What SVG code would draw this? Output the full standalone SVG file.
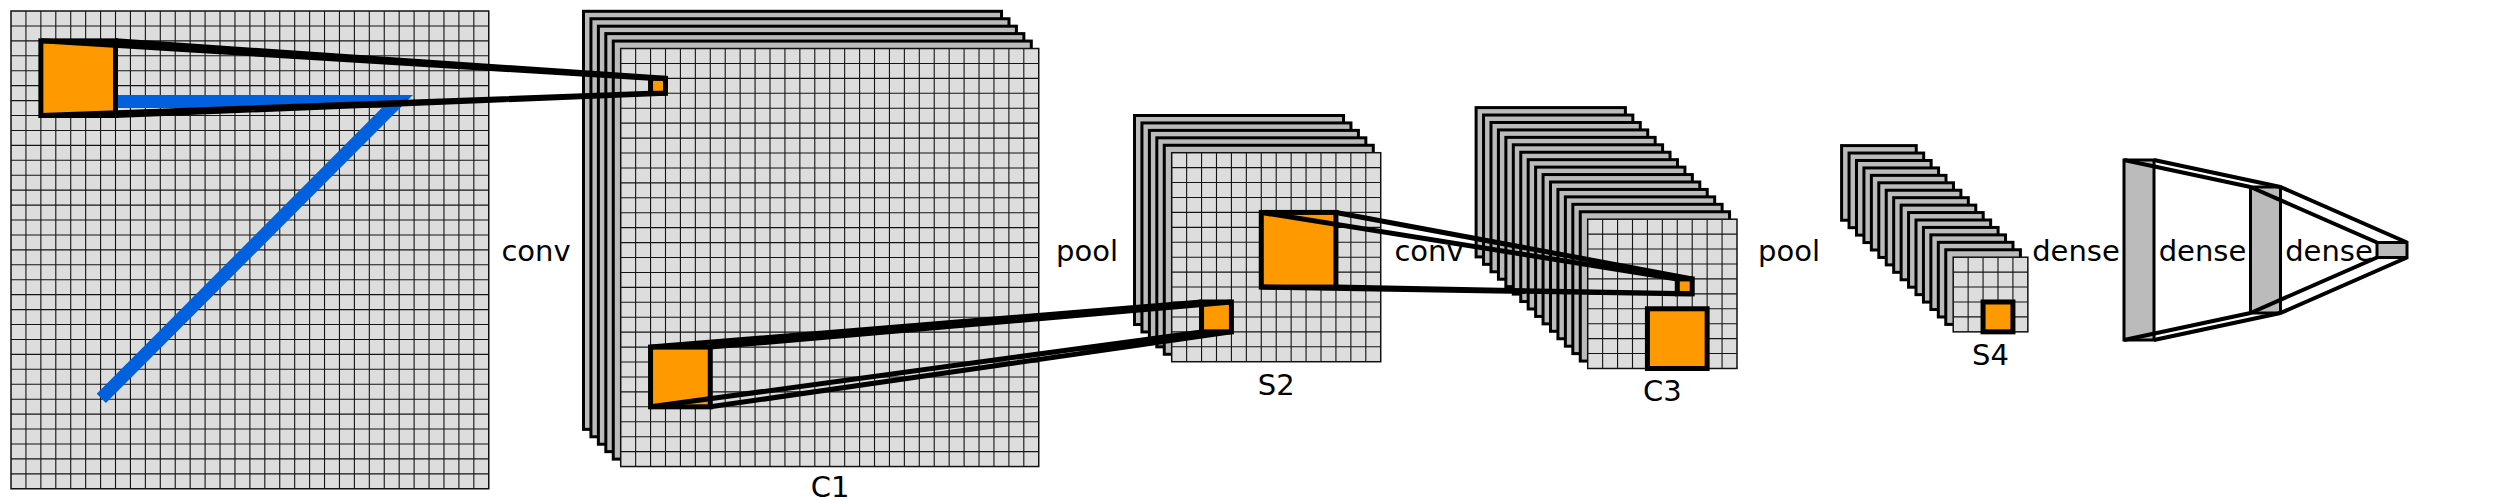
<svg xmlns="http://www.w3.org/2000/svg" width="2514" height="500" viewBox="0 0 2514 500">
<style>
.back{fill:#bbbbbb;stroke:#000;stroke-width:3}
.face{fill:#dddddd;stroke:#111;stroke-width:1.5}
.grid{fill:none;stroke:#141414;stroke-width:1.1}
.kern{fill:#ff9900;stroke:#000;stroke-width:5}
.proj{fill:none;stroke:#000;stroke-width:5}
.dl{fill:none;stroke:#000;stroke-width:4}
.dense{fill:#bbbbbb;stroke:#000;stroke-width:3}
.blue{fill:none;stroke:#0060dd;stroke-width:13;stroke-linejoin:miter;stroke-linecap:butt}
text{font-family:"DejaVu Sans","Liberation Sans",sans-serif;font-size:29px;fill:#000;text-anchor:middle}
</style>
<rect width="2514" height="500" fill="#fff"/>

<g id="input">
 <g transform="translate(11,11)">
  <rect class="face" width="477.76" height="477.76"/>
  <path class="grid" d="M14.93,0v477.76m14.93,-477.76v477.76m14.93,-477.76v477.76m14.93,-477.76v477.76m14.93,-477.76v477.76m14.93,-477.76v477.76m14.93,-477.76v477.76m14.93,-477.76v477.76m14.93,-477.76v477.76m14.93,-477.76v477.76m14.93,-477.76v477.76m14.93,-477.76v477.76m14.93,-477.76v477.76m14.93,-477.76v477.76m14.93,-477.76v477.76m14.93,-477.76v477.76m14.93,-477.76v477.76m14.93,-477.76v477.76m14.93,-477.76v477.76m14.93,-477.76v477.76m14.93,-477.76v477.76m14.93,-477.76v477.76m14.93,-477.76v477.76m14.93,-477.76v477.76m14.93,-477.76v477.76m14.93,-477.76v477.76m14.93,-477.76v477.76m14.93,-477.76v477.76m14.93,-477.76v477.76m14.93,-477.76v477.76m14.93,-477.76v477.76M0,14.93h477.76m-477.76,14.93h477.76m-477.76,14.93h477.76m-477.76,14.93h477.76m-477.76,14.93h477.76m-477.76,14.93h477.76m-477.76,14.93h477.76m-477.76,14.93h477.76m-477.76,14.93h477.76m-477.76,14.93h477.76m-477.76,14.93h477.76m-477.76,14.93h477.76m-477.76,14.93h477.76m-477.76,14.93h477.76m-477.76,14.93h477.76m-477.76,14.93h477.76m-477.76,14.93h477.76m-477.76,14.93h477.76m-477.76,14.93h477.76m-477.76,14.93h477.76m-477.76,14.93h477.76m-477.76,14.93h477.76m-477.76,14.93h477.76m-477.76,14.93h477.76m-477.76,14.93h477.76m-477.76,14.93h477.76m-477.76,14.93h477.76m-477.76,14.93h477.76m-477.76,14.93h477.76m-477.76,14.93h477.76m-477.76,14.93h477.76"/>
 </g>
 <polyline class="blue" points="115,101.5 397.3,101.5 101.3,398.3"/>
 <rect class="kern" x="40.86" y="40.86" width="74.65" height="74.65"/>
</g>

<g id="C1">
 <g transform="translate(620.7,48.5)">
  <rect class="back" x="-37.2" y="-37.2" width="418.04" height="418.04"/>
  <rect class="back" x="-29.76" y="-29.76" width="418.04" height="418.04"/>
  <rect class="back" x="-22.32" y="-22.32" width="418.04" height="418.04"/>
  <rect class="back" x="-14.88" y="-14.88" width="418.04" height="418.04"/>
  <rect class="back" x="-7.44" y="-7.44" width="418.04" height="418.04"/>
  <rect class="face" width="418.04" height="418.04"/>
  <path class="grid" d="M14.93,0v418.04m14.93,-418.04v418.04m14.93,-418.04v418.04m14.93,-418.04v418.04m14.93,-418.04v418.04m14.93,-418.04v418.04m14.93,-418.04v418.04m14.93,-418.04v418.04m14.93,-418.04v418.04m14.93,-418.04v418.04m14.93,-418.04v418.04m14.93,-418.04v418.04m14.93,-418.04v418.04m14.93,-418.04v418.04m14.93,-418.04v418.04m14.93,-418.04v418.04m14.93,-418.04v418.04m14.93,-418.04v418.04m14.93,-418.04v418.04m14.93,-418.04v418.04m14.93,-418.04v418.04m14.93,-418.04v418.04m14.93,-418.04v418.04m14.93,-418.04v418.04m14.93,-418.04v418.04m14.93,-418.04v418.04m14.93,-418.04v418.04M0,14.93h418.04m-418.04,14.93h418.04m-418.04,14.93h418.04m-418.04,14.93h418.04m-418.04,14.93h418.04m-418.04,14.93h418.04m-418.04,14.93h418.04m-418.04,14.93h418.04m-418.04,14.93h418.04m-418.04,14.93h418.04m-418.04,14.93h418.04m-418.04,14.93h418.04m-418.04,14.93h418.04m-418.04,14.93h418.04m-418.04,14.93h418.04m-418.04,14.93h418.04m-418.04,14.93h418.04m-418.04,14.93h418.04m-418.04,14.93h418.04m-418.04,14.93h418.04m-418.04,14.93h418.04m-418.04,14.93h418.04m-418.04,14.93h418.04m-418.04,14.93h418.04m-418.04,14.93h418.04m-418.04,14.93h418.04m-418.04,14.93h418.04"/>
  <rect class="kern" x="29.86" y="29.86" width="14.93" height="14.93"/>
  <rect class="kern" x="29.86" y="298.6" width="59.72" height="59.72"/>
 </g>
 <text x="830" y="497">C1</text>
</g>

<g id="S2">
 <g transform="translate(1171.7,152.7)">
  <rect class="back" x="-37.2" y="-37.2" width="209.02" height="209.02"/>
  <rect class="back" x="-29.76" y="-29.76" width="209.02" height="209.02"/>
  <rect class="back" x="-22.32" y="-22.32" width="209.02" height="209.02"/>
  <rect class="back" x="-14.88" y="-14.88" width="209.02" height="209.02"/>
  <rect class="back" x="-7.44" y="-7.44" width="209.02" height="209.02"/>
  <rect class="face" width="209.02" height="209.02"/>
  <path class="grid" d="M14.93,0v209.02m14.93,-209.02v209.02m14.93,-209.02v209.02m14.93,-209.02v209.02m14.93,-209.02v209.02m14.93,-209.02v209.02m14.93,-209.02v209.02m14.93,-209.02v209.02m14.93,-209.02v209.02m14.93,-209.02v209.02m14.93,-209.02v209.02m14.93,-209.02v209.02m14.93,-209.02v209.02M0,14.93h209.02m-209.02,14.93h209.02m-209.02,14.93h209.02m-209.02,14.93h209.02m-209.02,14.93h209.02m-209.02,14.93h209.02m-209.02,14.93h209.02m-209.02,14.93h209.02m-209.02,14.93h209.02m-209.02,14.93h209.02m-209.02,14.93h209.02m-209.02,14.93h209.02m-209.02,14.93h209.02"/>
  <rect class="kern" x="29.86" y="149.3" width="29.86" height="29.86"/>
  <rect class="kern" x="89.58" y="59.72" width="74.65" height="74.65"/>
 </g>
 <text x="1276.2" y="394.5">S2</text>
</g>

<g id="C3">
 <g transform="translate(1587.7,219.2)">
  <rect class="back" x="-111.6" y="-111.6" width="149.3" height="149.3"/>
  <rect class="back" x="-104.16" y="-104.16" width="149.3" height="149.3"/>
  <rect class="back" x="-96.72" y="-96.72" width="149.3" height="149.3"/>
  <rect class="back" x="-89.28" y="-89.28" width="149.3" height="149.3"/>
  <rect class="back" x="-81.84" y="-81.84" width="149.3" height="149.3"/>
  <rect class="back" x="-74.4" y="-74.4" width="149.3" height="149.3"/>
  <rect class="back" x="-66.96" y="-66.96" width="149.3" height="149.3"/>
  <rect class="back" x="-59.52" y="-59.52" width="149.3" height="149.3"/>
  <rect class="back" x="-52.08" y="-52.08" width="149.3" height="149.3"/>
  <rect class="back" x="-44.64" y="-44.64" width="149.3" height="149.3"/>
  <rect class="back" x="-37.2" y="-37.2" width="149.3" height="149.3"/>
  <rect class="back" x="-29.76" y="-29.76" width="149.3" height="149.3"/>
  <rect class="back" x="-22.32" y="-22.32" width="149.3" height="149.3"/>
  <rect class="back" x="-14.88" y="-14.88" width="149.3" height="149.3"/>
  <rect class="back" x="-7.44" y="-7.44" width="149.3" height="149.3"/>
  <rect class="face" width="149.3" height="149.3"/>
  <path class="grid" d="M14.93,0v149.3m14.93,-149.3v149.3m14.93,-149.3v149.3m14.93,-149.3v149.3m14.93,-149.3v149.3m14.93,-149.3v149.3m14.93,-149.3v149.3m14.93,-149.3v149.3m14.93,-149.3v149.3M0,14.93h149.3m-149.3,14.93h149.3m-149.3,14.93h149.3m-149.3,14.93h149.3m-149.3,14.93h149.3m-149.3,14.93h149.3m-149.3,14.93h149.3m-149.3,14.93h149.3m-149.3,14.93h149.3"/>
  <rect class="kern" x="89.58" y="59.72" width="14.93" height="14.93"/>
  <rect class="kern" x="59.72" y="89.58" width="59.72" height="59.72"/>
 </g>
 <text x="1662.4" y="401">C3</text>
</g>

<g id="S4">
 <g transform="translate(1953.2,257.2)">
  <rect class="back" x="-111.6" y="-111.6" width="74.65" height="74.65"/>
  <rect class="back" x="-104.16" y="-104.16" width="74.65" height="74.65"/>
  <rect class="back" x="-96.72" y="-96.72" width="74.65" height="74.65"/>
  <rect class="back" x="-89.28" y="-89.28" width="74.65" height="74.65"/>
  <rect class="back" x="-81.84" y="-81.84" width="74.65" height="74.65"/>
  <rect class="back" x="-74.4" y="-74.4" width="74.65" height="74.65"/>
  <rect class="back" x="-66.96" y="-66.96" width="74.65" height="74.65"/>
  <rect class="back" x="-59.52" y="-59.52" width="74.65" height="74.65"/>
  <rect class="back" x="-52.08" y="-52.08" width="74.65" height="74.65"/>
  <rect class="back" x="-44.64" y="-44.64" width="74.65" height="74.65"/>
  <rect class="back" x="-37.2" y="-37.2" width="74.65" height="74.65"/>
  <rect class="back" x="-29.76" y="-29.76" width="74.65" height="74.65"/>
  <rect class="back" x="-22.32" y="-22.32" width="74.65" height="74.65"/>
  <rect class="back" x="-14.88" y="-14.88" width="74.65" height="74.65"/>
  <rect class="back" x="-7.44" y="-7.44" width="74.65" height="74.65"/>
  <rect class="face" width="74.65" height="74.65"/>
  <path class="grid" d="M14.93,0v74.65m14.93,-74.65v74.65m14.93,-74.65v74.65m14.93,-74.65v74.65M0,14.93h74.65m-74.65,14.93h74.65m-74.65,14.93h74.65m-74.65,14.93h74.65"/>
  <rect class="kern" x="29.86" y="44.79" width="29.86" height="29.86"/>
 </g>
 <text x="1990.5" y="364.5">S4</text>
</g>

<g id="D1"><rect class="dense" x="2124" y="160" width="30" height="180"/></g>
<g id="D2"><rect class="dense" x="2250.5" y="187" width="30" height="126"/></g>
<g id="D3"><rect class="dense" x="2377" y="242.5" width="30" height="15"/></g>

<g id="connectors">
 <path class="proj" d="M40.86,40.86L650.56,78.36M115.51,40.86L665.49,78.36M40.86,115.51L650.56,93.29M115.51,115.51L665.49,93.29"/>
 <path class="proj" d="M650.56,347.1L1201.56,302M710.28,347.1L1231.42,302M650.56,406.82L1201.56,331.86M710.28,406.82L1231.42,331.86"/>
 <path class="proj" d="M1261.28,212.42L1677.28,278.92M1335.93,212.42L1692.21,278.92M1261.28,287.07L1677.28,293.85M1335.93,287.07L1692.21,293.85"/>
 <path class="dl" d="M2124,160L2250.5,187M2154,160L2280.5,187M2124,340L2250.5,313M2154,340L2280.5,313"/>
 <path class="dl" d="M2250.5,187L2377,242.5M2280.5,187L2407,242.5M2250.5,313L2377,257.5M2280.5,313L2407,257.5"/>
</g>

<g id="labels">
 <text x="536" y="261">conv</text>
 <text x="1087" y="261">pool</text>
 <text x="1429" y="261">conv</text>
 <text x="1789" y="261">pool</text>
 <text x="2076" y="261">dense</text>
 <text x="2202.5" y="261">dense</text>
 <text x="2329" y="261">dense</text>
</g>
</svg>
